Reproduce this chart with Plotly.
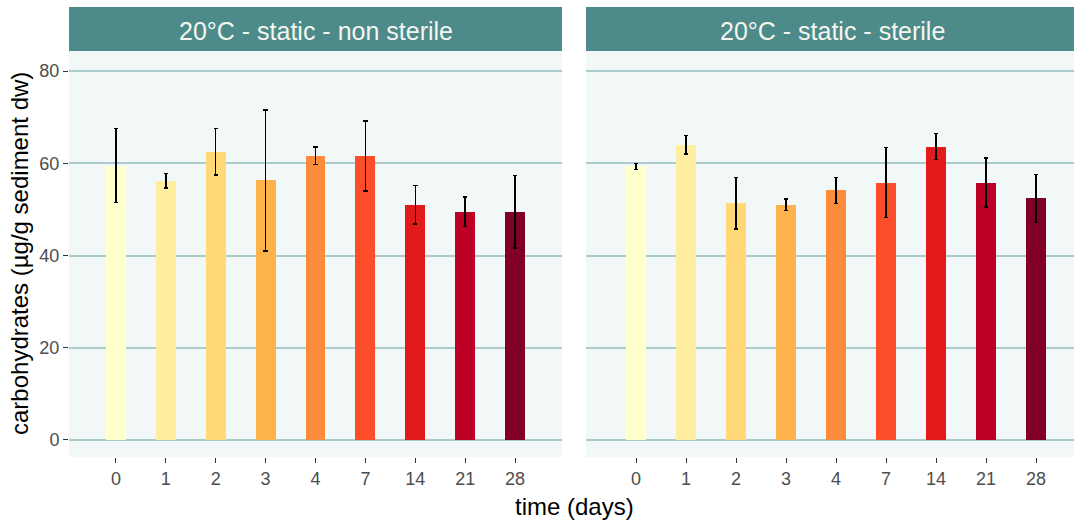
import plotly.graph_objects as go

days = ["0", "1", "2", "3", "4", "7", "14", "21", "28"]
colors = ["#FFFFCC", "#FFEDA0", "#FED976", "#FEB24C", "#FD8D3C",
          "#FC4E2A", "#E31A1C", "#BD0026", "#800026"]

panel_titles = ["20°C - static - non sterile", "20°C - static - sterile"]

nonsterile_mean = [59.5, 56.2, 62.5, 56.3, 61.6, 61.6, 51.0, 49.5, 49.5]
nonsterile_sd = [8.0, 1.6, 5.0, 15.3, 1.9, 7.6, 4.2, 3.2, 7.9]

sterile_mean = [59.3, 64.0, 51.3, 51.0, 54.1, 55.8, 63.6, 55.8, 52.4]
sterile_sd = [0.7, 2.0, 5.6, 1.2, 2.8, 7.6, 2.8, 5.3, 5.2]

W, H = 1074, 525
FONT = "Liberation Sans, Arial, sans-serif"

def px_x(a):
    return a / W

def px_y(a):
    return (H - a) / H

fig = go.Figure()

panels = [
    (nonsterile_mean, nonsterile_sd, "x", "y", 69, 562, [-0.94, 8.94]),
    (sterile_mean, sterile_sd, "x2", "y2", 586, 1074, [-1.0, 8.76]),
]

for mean, sd, xa, ya, x0, x1, xr in panels:
    fig.add_trace(go.Bar(
        x=days, y=mean, xaxis=xa, yaxis=ya,
        marker=dict(color=colors, line=dict(width=0)),
        width=0.4,
        error_y=dict(type="data", array=sd, visible=True,
                     color="black", thickness=1.5, width=2.2),
        showlegend=False,
    ))

ydom = [px_y(457), px_y(51)]
yrange = [-3.69, 84.34]
grid_col = "#AECBCB"
tickfont = dict(family=FONT, size=18, color="#4D4D4D")

common_x = dict(type="category", showgrid=False, zeroline=False, showline=False,
                ticks="outside", ticklen=5, tickwidth=1.3, tickcolor="#333333",
                tickfont=tickfont, fixedrange=True)
common_y = dict(range=yrange, domain=ydom, showgrid=True, gridcolor=grid_col,
                gridwidth=1.5, zeroline=False, showline=False,
                tickvals=[0, 20, 40, 60, 80], fixedrange=True)

fig.update_layout(
    width=W, height=H,
    margin=dict(l=0, r=0, t=0, b=0),
    paper_bgcolor="white",
    plot_bgcolor="#F2F7F7",
    bargap=0,
    xaxis=dict(domain=[px_x(69), px_x(562)], range=panels[0][6], anchor="y", **common_x),
    xaxis2=dict(domain=[px_x(586), px_x(1074)], range=panels[1][6], anchor="y2", **common_x),
    yaxis=dict(anchor="x", ticks="outside", ticklen=5, tickwidth=1.3, tickcolor="#333333",
               tickfont=tickfont, **common_y),
    yaxis2=dict(anchor="x2", showticklabels=False, ticks="", **common_y),
    font=dict(family=FONT),
)

strip_col = "#4C8B89"
centers = [(69 + 562) / 2, (586 + 1079) / 2]
for (mean, sd, xa, ya, x0, x1, xr), title, cx in zip(panels, panel_titles, centers):
    fig.add_shape(type="rect", xref="paper", yref="paper",
                  x0=px_x(x0), x1=px_x(x1), y0=px_y(51), y1=px_y(7),
                  fillcolor=strip_col, line=dict(width=0), layer="below")
    fig.add_annotation(text=title, xref="paper", yref="paper",
                       x=px_x(cx), y=px_y(31), showarrow=False,
                       xanchor="center", yanchor="middle",
                       font=dict(size=25, color="#F5F5F0", family=FONT))

fig.add_annotation(text="time (days)", xref="paper", yref="paper",
                   x=px_x(574), y=px_y(506), showarrow=False,
                   xanchor="center", yanchor="middle",
                   font=dict(size=24, color="black", family=FONT))
fig.add_annotation(text="carbohydrates (µg/g sediment dw)", xref="paper", yref="paper",
                   x=px_x(19), y=px_y(254), showarrow=False, textangle=-90,
                   xanchor="center", yanchor="middle",
                   font=dict(size=24, color="black", family=FONT))

fig.write_html("out.html", config={"displayModeBar": False},
               post_script="document.body.style.margin='0';document.body.style.overflow='hidden';")
